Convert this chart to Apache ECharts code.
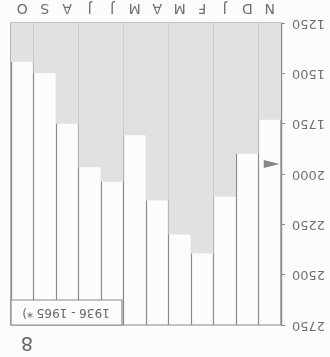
<!DOCTYPE html>
<html><head><meta charset="utf-8">
<script src="https://cdn.jsdelivr.net/npm/echarts@6/dist/echarts.min.js"></script>
<style>html,body{margin:0;padding:0;background:#fcfcfc;}#c{width:330px;height:357px;}</style>
</head><body><div id="c"></div>
<script>
const months = ['N','D','J','F','M','A','M','J','J','A','S','O'];
const values = [1730, 1900, 2113, 2395, 2300, 2132, 1807, 2038, 1967, 1750, 1500, 1443];
const meanValue = 1950;
const yTicks = [1250, 1500, 1750, 2000, 2250, 2500, 2750];
const legendText = '1936 - 1965 *)';
const pageNumber = '8';

const chart = echarts.init(document.getElementById('c'));
chart.setOption({
  backgroundColor: '#fcfcfc',
  animation: false,
  grid: {left: 11, right: 49, top: 23, bottom: 32, show: true, borderColor: '#8a8a8a', borderWidth: 1.2, backgroundColor: 'transparent'},
  xAxis: {
    type: 'category', data: months, position: 'top', inverse: true,
    axisLine: {show: false}, axisTick: {show: false},
    splitLine: {show: true, lineStyle: {color: '#8a8a8a', width: 1.2}},
    axisLabel: {rotate: 180, color: '#707070', fontSize: 14, fontFamily: 'DejaVu Sans', margin: 8}
  },
  yAxis: {
    type: 'value', position: 'right', inverse: true,
    min: yTicks[0], max: yTicks[yTicks.length-1], interval: 250,
    axisLine: {show: true, lineStyle: {color: '#8a8a8a', width: 1.2}},
    axisTick: {show: true, length: 4, lineStyle: {color: '#8a8a8a'}},
    splitLine: {show: false},
    axisLabel: {rotate: 180, color: '#707070', fontSize: 13, fontFamily: 'DejaVu Sans', margin: 11,
      formatter: v => String(v)}
  },
  series: [{
    type: 'bar', data: values, barWidth: '100%', clip: true,
    itemStyle: {color: '#e1e1e1'}, z: 1
  }, {
    type: 'scatter', data: [[0, meanValue]], symbol: 'path://M0,0 L10,5 L0,10 Z', symbolSize: [16, 8],
    symbolKeepAspect: false, symbolOffset: [2, 0],
    itemStyle: {color: '#6a6a6a'}, z: 5
  }],
  graphic: [
    {type: 'rect', shape: {x: 11, y: 300, width: 111, height: 25}, style: {fill: '#fcfcfc', stroke: '#8a8a8a', lineWidth: 1.2}, z: 100},
    {type: 'text', x: 66, y: 312.5, rotation: Math.PI, style: {text: legendText, fill: '#666', font: '12px DejaVu Sans', align: 'center', verticalAlign: 'middle'}, z: 101},
    {type: 'text', x: 27, y: 342, rotation: Math.PI, style: {text: pageNumber, fill: '#666', font: '19px DejaVu Sans', align: 'center', verticalAlign: 'middle'}, z: 101}
  ]
});
</script></body></html>
